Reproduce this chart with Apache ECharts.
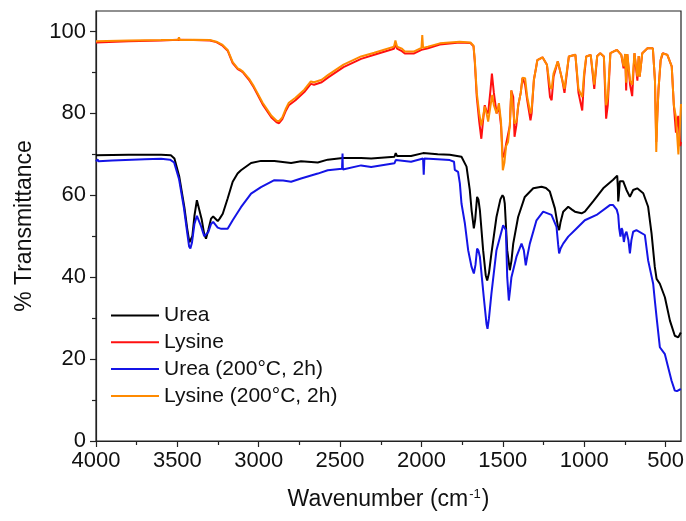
<!DOCTYPE html>
<html>
<head>
<meta charset="utf-8">
<script src="https://cdn.jsdelivr.net/npm/echarts@6/dist/echarts.min.js"></script>
<style>html,body{margin:0;padding:0;background:#fff;}#c{width:686px;height:521px;}</style>
</head>
<body>
<div id="c"></div>
<script>
var seriesNames = ['Urea', 'Lysine', 'Urea (200°C, 2h)', 'Lysine (200°C, 2h)'];
var xMajorTicks = [500, 1000, 1500, 2000, 2500, 3000, 3500, 4000];
var xMinorTicks = [750, 1250, 1750, 2250, 2750, 3250, 3750];
var yMajorTicks = [0, 20, 40, 60, 80, 100];
var yMinorTicks = [10, 30, 50, 70, 90];

var urea = [[4000,69.8],[3800,69.9],[3600,69.9],[3540,69.8],[3518,69.0],[3488,64.5],[3457,57.1],[3440,52],[3426,48.5],[3418,48.2],[3408,50],[3395,55],[3380,58.8],[3375,59.2],[3368,58.5],[3350,54],[3335,50.5],[3324,49.4],[3310,51.5],[3293,54.3],[3280,54.8],[3268,54.9],[3252,53.7],[3240,54.3],[3221,55.5],[3191,59.2],[3160,63.3],[3130,65.3],[3109,66.1],[3047,67.9],[2986,68.4],[2904,68.4],[2801,67.9],[2740,68.3],[2637,68.0],[2576,68.7],[2484,69.1],[2371,69.1],[2309,69.0],[2166,69.4],[2158,70.3],[2150,69.6],[2064,69.6],[1990,70.3],[1900,70.0],[1826,69.9],[1754,69.4],[1723,67.0],[1703,61.3],[1692,56.4],[1678,51.9],[1670,54],[1658,59.6],[1650,59],[1641,56.4],[1621,46.6],[1605,40.5],[1596,39.2],[1585,41],[1570,45.8],[1539,54.7],[1515,59],[1502,60],[1494,59.5],[1488,58],[1473,46.6],[1457,41.7],[1447,44],[1436,48.2],[1406,54.7],[1365,59.6],[1313,61.7],[1262,62.1],[1235,61.8],[1211,60.9],[1180,56.8],[1162,52.5],[1154,51.5],[1145,53.5],[1129,56],[1098,57.2],[1075,56.5],[1057,56],[1016,55.6],[996,56],[945,58.5],[883,61.7],[822,63.8],[797,64.8],[793,62],[791,58.5],[787,60],[781,63.4],[760,63.4],[740,61.3],[719,59.6],[699,61.3],[674,61.7],[637,60.5],[607,57.2],[586,50.7],[566,42.5],[555,39.6],[535,38.4],[504,35.1],[473,29.4],[443,25.7],[422,25.3],[406,26.5]];

var lysine = [[4000,97.3],[3800,97.6],[3600,97.8],[3495,98.0],[3400,97.9],[3300,97.8],[3260,97.4],[3225,96.6],[3191,95.3],[3160,92.3],[3129,90.8],[3110,90.4],[3097,90.0],[3060,88.2],[3030,86.3],[2976,82.2],[2922,79.0],[2890,77.8],[2875,77.6],[2855,78.6],[2835,80.5],[2815,82.0],[2774,83.2],[2720,85.2],[2680,87.2],[2660,87.0],[2653,86.8],[2613,87.6],[2573,88.8],[2479,91.3],[2371,93.3],[2290,94.3],[2169,95.8],[2160,97.0],[2150,95.8],[2120,95.2],[2102,94.6],[2048,94.6],[2000,95.5],[1960,95.9],[1887,96.8],[1766,97.3],[1699,97.2],[1680,96.4],[1672,92.5],[1660,84],[1645,78],[1632,73.8],[1622,78],[1611,82],[1600,80.5],[1590,80],[1575,86],[1567,89.7],[1555,85],[1538,80],[1524,81.5],[1511,77],[1500,69.3],[1490,70],[1480,72.5],[1468,72.5],[1457,77],[1448,85.6],[1436,84],[1428,74.3],[1417,77],[1405,82],[1390,85],[1379,88.7],[1363,87],[1350,83.2],[1330,78.3],[1323,80],[1309,88.2],[1295,91.3],[1288,93],[1256,93.7],[1229,91.9],[1210,84],[1200,83.2],[1188,89],[1162,92.7],[1135,88.2],[1121,85],[1094,93.9],[1054,94.3],[1035,85],[1012,80.7],[1000,89],[987,93.9],[960,94.3],[938,86],[920,94],[901,94.7],[879,93.9],[865,78.7],[855,82],[839,94.7],[799,95.5],[772,94.3],[758,91],[748,94.5],[742,85.6],[735,94.5],[718,87],[705,84.2],[691,94.7],[673,88],[665,94],[659,89],[643,94.7],[611,95.9],[578,95.9],[565,88],[557,73],[550,80],[543,86],[530,93],[516,94.7],[489,94.3],[462,91.5],[449,82],[436,75.3],[422,79.4],[410,72],[405,73]];

var urea200 = [[4000,68.3],[3990,68.8],[3985,68.3],[3900,68.5],[3700,68.8],[3600,68.9],[3545,68.7],[3520,68.0],[3490,64],[3460,57],[3440,51],[3428,47.5],[3420,47.0],[3410,48.5],[3395,53],[3380,55],[3370,55.1],[3355,52.5],[3335,50],[3324,49.6],[3310,51],[3293,53],[3280,53.5],[3268,53.3],[3252,52.1],[3230,51.8],[3191,51.8],[3160,53.9],[3109,57.1],[3047,60.4],[2986,62],[2904,63.7],[2850,63.6],[2801,63.3],[2740,64.1],[2637,65.3],[2576,66.1],[2488,66.5],[2485,70.2],[2483,66.3],[2371,67.3],[2309,66.9],[2166,67.8],[2158,68.6],[2150,68.2],[2064,68.2],[1990,69],[1986,65],[1982,69],[1900,68.8],[1826,68.6],[1800,68.2],[1795,66.2],[1775,65.7],[1764,62.9],[1754,58],[1733,53.1],[1713,46.6],[1692,42.5],[1678,40.9],[1668,43],[1658,47],[1650,46.5],[1641,45],[1617,35.1],[1600,28.5],[1594,27.4],[1585,30],[1570,36],[1539,46.6],[1498,52.7],[1481,51.5],[1473,40],[1463,34.3],[1455,37],[1447,40],[1416,45],[1385,48.2],[1371,46.6],[1359,42.9],[1350,45],[1334,48.2],[1293,53.9],[1252,56],[1201,55.2],[1170,52.3],[1160,48],[1154,45.8],[1145,47],[1129,48.2],[1098,49.9],[1047,51.9],[996,53.9],[924,55.2],[842,57.6],[822,57.6],[800,56.5],[791,55.2],[785,52],[777,49.9],[770,52],[765,51.5],[756,48.6],[748,50.5],[740,51.1],[728,49],[719,45.8],[710,49],[699,51.1],[679,51.5],[627,50.3],[607,44.1],[576,38.4],[565,34],[555,30.2],[535,22.9],[504,21.2],[484,18],[463,14.7],[443,12.3],[430,12.2],[406,12.7]];

var lysine200 = [[4000,97.6],[3800,97.8],[3600,97.9],[3495,98.0],[3490,98.6],[3485,97.9],[3400,98.0],[3300,97.9],[3260,97.5],[3225,96.8],[3191,95.5],[3160,92.5],[3129,91.0],[3110,90.6],[3097,90.2],[3060,88.5],[3030,86.6],[2976,82.6],[2922,79.4],[2890,78.2],[2875,78.1],[2855,79.0],[2835,81],[2815,82.6],[2774,83.8],[2720,85.8],[2680,87.8],[2660,87.6],[2653,87.4],[2613,88.2],[2573,89.4],[2479,91.9],[2371,93.9],[2290,94.8],[2169,96.3],[2160,97.8],[2150,96.3],[2120,95.8],[2102,95.1],[2048,95.1],[2000,96.0],[1995,99.1],[1990,96],[1960,96.3],[1887,97.1],[1766,97.5],[1699,97.3],[1680,96.5],[1672,93],[1660,85],[1645,80],[1632,77],[1622,79],[1611,81.7],[1600,80],[1590,78],[1575,82],[1565,84.5],[1555,82],[1538,80],[1524,82.5],[1511,78],[1500,66.1],[1490,68],[1480,72],[1468,73],[1457,77],[1448,85.6],[1436,85.8],[1428,77.5],[1417,78],[1405,82],[1390,85],[1379,88.7],[1363,88.6],[1350,84],[1330,80],[1323,81],[1309,88.2],[1295,91.3],[1288,93],[1256,93.7],[1229,91.9],[1210,86.5],[1200,86],[1188,89.8],[1162,92.7],[1135,88.2],[1121,86],[1094,93.9],[1054,94.3],[1035,86],[1012,84],[1000,90],[987,93.9],[960,94.3],[938,87],[920,94],[901,94.7],[879,93.9],[865,82],[855,84],[839,94.7],[799,95.5],[772,94.3],[758,91.5],[748,94.5],[742,87.5],[735,94.5],[718,88],[705,87],[691,94.7],[673,89],[665,94],[659,89],[643,94.7],[611,95.9],[578,95.9],[565,88],[557,70.6],[550,80],[543,86],[530,93],[520,94.6],[489,94.3],[462,91.5],[449,82],[436,79],[421,70],[405,82.3]];

var colors = ['#000000', '#ff1010', '#1414e6', '#ff8a00'];
var dataSets = [urea, lysine, urea200, lysine200];
var FONT = 'Liberation Sans, Arial, sans-serif';

var chart = echarts.init(document.getElementById('c'));
var series = dataSets.map(function (d, i) {
  return {
    name: seriesNames[i], type: 'line', data: d, symbol: 'none',
    xAxisIndex: 0, yAxisIndex: 0,
    lineStyle: { color: colors[i], width: 2 }, itemStyle: { color: colors[i] },
    animation: false, z: 2 + i
  };
});

var XMIN = 405, XMAX = 4000, YMIN = 0, YMAX = 105;
chart.setOption({
  backgroundColor: '#fff',
  animation: false,
  grid: { left: 96, right: 5, top: 11, bottom: 80, containLabel: false, outerBoundsMode: 'none',
    show: true, borderColor: '#222', borderWidth: 1.2, backgroundColor: 'transparent' },
  legend: {
    orient: 'vertical', left: 106, top: 300, itemWidth: 48, itemHeight: 20, itemGap: 5.8,
    data: seriesNames, icon: 'path://M0,9L48,9L48,11L0,11Z',
    textStyle: { fontFamily: FONT, fontSize: 21, color: '#111', padding: [0, 0, 0, 0] },
    selectedMode: false
  },
  xAxis: [{
    type: 'value', inverse: true, min: XMIN, max: XMAX,
    axisLine: { show: true, lineStyle: { color: '#222', width: 1.2 } },
    axisTick: { show: true, inside: false, length: 6, customValues: xMajorTicks, lineStyle: { color: '#222', width: 1.2 } },
    axisLabel: { show: true, customValues: xMajorTicks, margin: 9, fontFamily: FONT, fontSize: 22, color: '#111',
      hideOverlap: false, formatter: function (v) { return String(v); } },
    splitLine: { show: false },
    name: '{a|Wavenumber (cm}{b|-1}{a|)}', nameLocation: 'middle', nameGap: 47,
    nameTextStyle: { rich: { a: { fontFamily: FONT, fontSize: 23, color: '#111' }, b: { fontFamily: FONT, fontSize: 13, color: '#111', verticalAlign: 'top', padding: [0, 1, 10, 1] } } }
  }, {
    type: 'value', inverse: true, min: XMIN, max: XMAX, position: 'bottom',
    axisLine: { show: false },
    axisTick: { show: true, inside: false, length: 4, customValues: xMinorTicks, lineStyle: { color: '#222', width: 1.2 } },
    axisLabel: { show: false }, splitLine: { show: false }
  }],
  yAxis: [{
    type: 'value', min: YMIN, max: YMAX,
    axisLine: { show: true, lineStyle: { color: '#222', width: 1.2 } },
    axisTick: { show: true, inside: false, length: 6, customValues: yMajorTicks, lineStyle: { color: '#222', width: 1.2 } },
    axisLabel: { show: true, customValues: yMajorTicks, margin: 10, fontFamily: FONT, fontSize: 22, color: '#111' },
    splitLine: { show: false },
    name: '% Transmittance', nameLocation: 'middle', nameGap: 60,
    nameTextStyle: { fontFamily: FONT, fontSize: 23, color: '#111' }
  }, {
    type: 'value', min: YMIN, max: YMAX, position: 'left',
    axisLine: { show: false },
    axisTick: { show: true, inside: false, length: 4, customValues: yMinorTicks, lineStyle: { color: '#222', width: 1.2 } },
    axisLabel: { show: false }, splitLine: { show: false }
  }],
  series: series
});
</script>
</body>
</html>
